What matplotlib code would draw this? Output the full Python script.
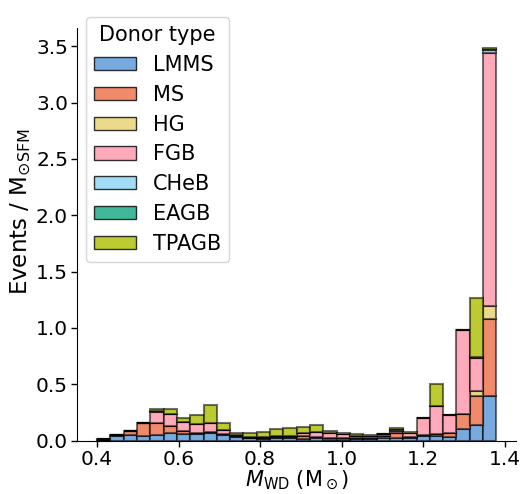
import numpy as np
import matplotlib
matplotlib.use("Agg")
import matplotlib.pyplot as plt

bin_edges = np.linspace(0.4, 1.38, 31)

donor_types = ["LMMS", "MS", "HG", "FGB", "CHeB", "EAGB", "TPAGB"]
colors = ["#77abe0", "#ef8b6b", "#ebda8b", "#ffaaba", "#a1dcf7", "#40b99a", "#bccb31"]

lmms = [0.006, 0.045, 0.05, 0.04, 0.05, 0.07, 0.055, 0.06, 0.065, 0.05,
        0.03, 0.02, 0.015, 0.02, 0.02, 0.018, 0.02, 0.01, 0.01, 0.015,
        0.015, 0.02, 0.02, 0.02, 0.04, 0.04, 0.035, 0.10, 0.14, 0.394]
ms = [0.003, 0.003, 0.04, 0.12, 0.105, 0.06, 0.03, 0.01, 0.01, 0.01,
      0.01, 0.005, 0.01, 0.01, 0.01, 0.02, 0.01, 0.01, 0.01, 0.01,
      0.01, 0.025, 0.05, 0.015, 0.01, 0.015, 0.035, 0.14, 0.255, 0.686]
hg = [0.0, 0.0, 0.0, 0.0, 0.0, 0.0, 0.0, 0.0, 0.0, 0.0,
      0.0, 0.0, 0.0, 0.0, 0.0, 0.0, 0.0, 0.0, 0.0, 0.0,
      0.0, 0.0, 0.0, 0.0, 0.0, 0.0, 0.0, 0.0, 0.045, 0.117]
fgb = [0.003, 0.0, 0.0, 0.0, 0.1, 0.11, 0.08, 0.08, 0.08, 0.035,
       0.01, 0.01, 0.01, 0.015, 0.015, 0.03, 0.05, 0.05, 0.04, 0.015,
       0.02, 0.01, 0.015, 0.03, 0.147, 0.25, 0.16, 0.74, 0.29, 2.24]
cheb = [0.0, 0.0, 0.0, 0.0, 0.005, 0.0, 0.0, 0.0, 0.0, 0.0,
        0.0, 0.0, 0.0, 0.0, 0.0, 0.0, 0.0, 0.0, 0.0, 0.0,
        0.0, 0.0, 0.01, 0.0, 0.0, 0.0, 0.0, 0.0, 0.005, 0.03]
eagb = [0.0, 0.0, 0.0, 0.0, 0.005, 0.0, 0.0, 0.0, 0.0, 0.0,
        0.0, 0.0, 0.0, 0.0, 0.0, 0.0, 0.0, 0.0, 0.0, 0.0,
        0.0, 0.0, 0.01, 0.0, 0.0, 0.0, 0.0, 0.0, 0.005, 0.01]
tpagb = [0.0, 0.0, 0.0, 0.0, 0.02, 0.04, 0.035, 0.08, 0.16, 0.065,
         0.015, 0.03, 0.04, 0.055, 0.07, 0.055, 0.06, 0.015, 0.005, 0.02,
         0.005, 0.005, 0.005, 0.01, 0.0, 0.195, 0.0, 0.0, 0.53, 0.005]

series = [lmms, ms, hg, fgb, cheb, eagb, tpagb]

fig = plt.figure(figsize=(5.28, 4.94), dpi=100)
ax = fig.add_axes([0.146, 0.108, 0.832, 0.835])

lefts = bin_edges[:-1]
widths = np.diff(bin_edges)
bottom = np.zeros(len(lefts))
for name, vals, col in zip(donor_types, series, colors):
    vals = np.asarray(vals, dtype=float)
    ax.bar(lefts, vals, width=widths, bottom=bottom, align="edge",
           facecolor=col, edgecolor=(0, 0, 0, 0.55), linewidth=1.5, label=name)
    bottom = bottom + vals

ax.set_xlim(0.351, 1.429)
ax.set_ylim(0, 3.66)
ax.set_xticks([0.4, 0.6, 0.8, 1.0, 1.2, 1.4])
ax.set_yticks([0.0, 0.5, 1.0, 1.5, 2.0, 2.5, 3.0, 3.5])
ax.tick_params(labelsize=14.5, length=4, width=1, pad=2.5)
ax.spines["top"].set_visible(False)
ax.spines["right"].set_visible(False)
ax.set_xlabel(r"$M_\mathrm{WD}$ (M$_\odot$)", fontsize=15, labelpad=0)
ax.set_ylabel(r"Events / M$_{\odot\mathrm{SFM}}$", fontsize=16.5)
ax.yaxis.set_label_coords(-0.099, 0.555)

leg = ax.legend(title="Donor type", loc="upper left", fontsize=15, title_fontsize=15,
                bbox_to_anchor=(0.163, 0.966), bbox_transform=fig.transFigure,
                handlelength=2.0, handleheight=0.6, handletextpad=0.8,
                labelspacing=0.47, borderpad=0.4, borderaxespad=0.0)
for h in leg.legend_handles:
    h.set_edgecolor((0, 0, 0, 0.8))
    h.set_linewidth(1.0)

fig.savefig("out.png", dpi=100)
